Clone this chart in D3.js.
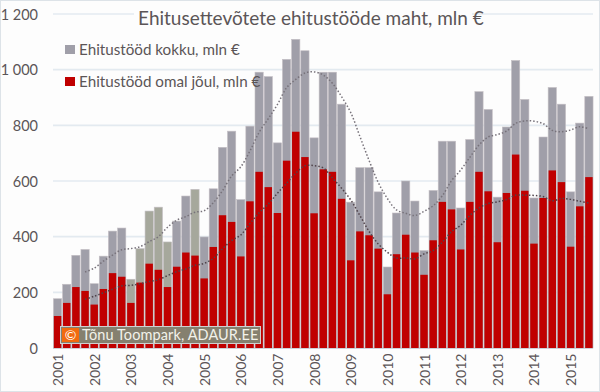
<!DOCTYPE html>
<html><head><meta charset="utf-8">
<script src="https://cdnjs.cloudflare.com/ajax/libs/d3/7.8.5/d3.min.js"></script>
<style>html,body{margin:0;padding:0;background:#fff}svg{display:block}text{font-family:Lato,sans-serif}</style>
</head><body><svg id="c" width="600" height="392"></svg>
<script>
const years=["2001","2002","2003","2004","2005","2006","2007","2008","2009","2010","2011","2012","2013","2014","2015"];
const yTicks=[0,200,400,600,800,1000,1200];
const total=[177,229,333,354,231,330,420,431,247,357,492,506,381,456,546,570,399,572,721,779,533,797,991,975,737,1037,1109,1068,755,991,991,876,524,648,648,561,291,485,600,528,350,566,743,743,503,749,921,857,542,794,1033,893,539,758,936,876,561,808,904];
const own=[115,162,219,205,156,212,269,256,162,235,303,281,219,292,343,332,250,363,477,453,329,527,633,578,485,673,777,686,484,642,633,536,315,419,405,357,193,337,407,343,263,387,525,498,354,525,633,563,380,557,695,565,375,539,638,596,364,509,614];
const totalAvg=[273,287,312,334,353,357,364,382,400,434,459,472,488,493,522,565,618,651,708,775,824,875,935,965,988,992,981,951,903,846,760,674,595,537,496,484,476,491,511,547,601,639,685,729,758,767,779,807,816,815,806,782,777,783,795,787];
const ownAvg=[175,186,198,211,223,225,231,239,245,260,274,284,297,304,322,356,386,406,447,486,517,556,592,628,655,655,647,611,574,532,476,419,374,344,323,324,320,338,350,380,418,441,476,503,519,525,533,549,549,548,544,529,537,534,527,521];
const tintedBars=[8,9,10,11,12,15];
const title="Ehitusettevõtete ehitustööde maht, mln €";
const legendLabels=["Ehitustööd kokku, mln €","Ehitustööd omal jõul, mln €"];
const credit="Tõnu Toompark, ADAUR.EE";

const svg=d3.select("#c");
const idx=d3.range(total.length);
const x=d3.scaleBand().domain(idx).range([53,593.5]).paddingInner(0.1).paddingOuter(0.05);
const y=d3.scaleLinear().domain([0,1200]).range([348,14]);
const fmt=v=>v>=1000?d3.format(",")(v).replace(","," "):String(v);
const ink="#5b5557";

svg.append("rect").attr("width",600).attr("height",392).attr("fill","#fdfdfd");
svg.append("rect").attr("x",.5).attr("y",.5).attr("width",599).attr("height",391).attr("fill","none").attr("stroke","#dde3e8");

svg.append("g").selectAll("line").data(yTicks.filter(d=>d>0)).join("line")
  .attr("x1",53).attr("x2",593).attr("y1",d=>y(d)).attr("y2",d=>y(d))
  .attr("stroke","#e3eaf0").attr("stroke-width",1.6);
svg.append("line").attr("x1",53).attr("x2",593).attr("y1",y(0)).attr("y2",y(0)).attr("stroke","#aab4c4").attr("stroke-width",1);
svg.append("rect").attr("x",134).attr("y",6).attr("width",338).attr("height",24).attr("fill","#fdfdfd");

svg.append("g").selectAll("rect").data(idx).join("rect")
  .attr("x",i=>x(i)).attr("width",x.bandwidth()).attr("y",i=>y(total[i])).attr("height",i=>y(0)-y(total[i]))
  .attr("fill",i=>tintedBars.includes(i)?"#a6a89c":"#a09fa9").attr("stroke","#c4bfc4").attr("stroke-width",.6);
svg.append("g").selectAll("rect").data(idx).join("rect")
  .attr("x",i=>x(i)+.4).attr("width",x.bandwidth()-.8).attr("y",i=>y(own[i])).attr("height",i=>y(0)-y(own[i]))
  .attr("fill","#c00000");

const line=d3.line().x((d,i)=>x(i+3)+x.bandwidth()/2).y(d=>y(d)).curve(d3.curveCatmullRom.alpha(.5));
svg.append("path").attr("d",line(totalAvg)).attr("fill","none").attr("stroke","#77727a").attr("stroke-width",1.5).attr("stroke-dasharray","1.5 2");
svg.append("path").attr("d",line(ownAvg)).attr("fill","none").attr("stroke","#4f4249").attr("stroke-width",1.5).attr("stroke-dasharray","1.5 2");

svg.append("g").selectAll("text").data(yTicks).join("text")
  .attr("x",38).attr("y",d=>y(d)+5.5).attr("text-anchor","end").attr("font-size",14.5).attr("fill",ink).text(fmt);
const yearPos=d3.scalePoint().domain(years).range([x(0)+x.bandwidth()/2,x(56)+x.bandwidth()/2]);
svg.append("g").selectAll("text").data(years).join("text")
  .attr("transform",d=>`translate(${yearPos(d)+5.5},386) rotate(-90)`).attr("font-size",14).attr("fill",ink).text(d=>d);

svg.append("text").attr("x",138).attr("y",25).attr("font-size",19).attr("fill",ink).text(title);
const leg=svg.append("g").selectAll("g").data(legendLabels).join("g").attr("transform",(d,i)=>`translate(65,${45+i*32})`);
leg.append("rect").attr("width",10).attr("height",9).attr("fill",(d,i)=>i?"#c00000":"#a09fa9");
leg.append("text").attr("x",14).attr("y",10).attr("font-size",15.2).attr("fill",ink).text(d=>d);

const w=svg.append("g");
w.append("rect").attr("x",60.5).attr("y",326.5).attr("width",200).attr("height",17).attr("fill","#85806f").attr("stroke","#cfcfcf");
w.append("rect").attr("x",62).attr("y",328).attr("width",17).attr("height",14).attr("fill","#f26a0f");
w.append("text").attr("x",70.5).attr("y",340).attr("text-anchor","middle").attr("font-size",14).attr("fill","#fff").text("©");
w.append("text").attr("x",82).attr("y",340).attr("font-size",14.5).attr("letter-spacing",.1).attr("fill","#f2f2ea").text(credit);
</script></body></html>
